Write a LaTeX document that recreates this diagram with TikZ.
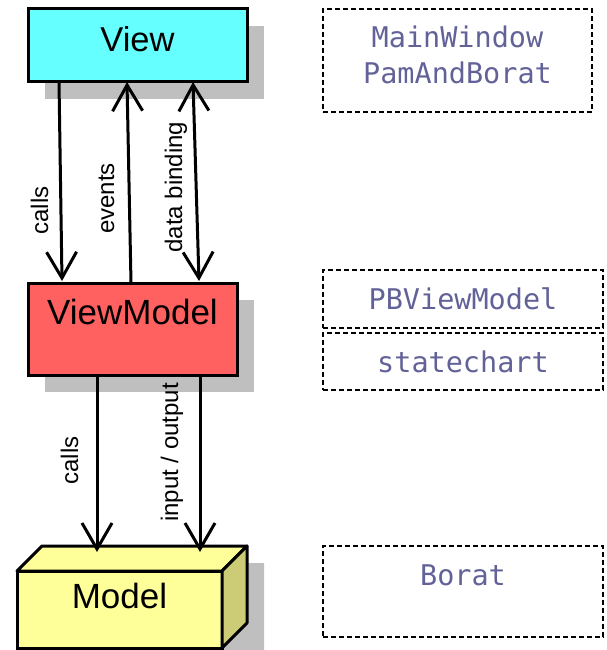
\documentclass[tikz,border=0pt]{standalone}
\usepackage{fontspec}
\setmainfont{Liberation Sans}
\newfontfamily\codefont{DejaVu Sans Mono}
\usetikzlibrary{arrows.meta,shadows,backgrounds}
\definecolor{viewc}{RGB}{102,255,255}
\definecolor{vmc}{RGB}{255,96,96}
\definecolor{modelc}{RGB}{255,255,153}
\definecolor{modelside}{RGB}{204,204,119}
\definecolor{shadowc}{RGB}{191,191,191}
\definecolor{codec}{RGB}{98,98,152}
\tikzset{
  mytip/.tip={Straight Barb[length=26pt,width=30pt]},
  box/.style={draw, line width=3pt, rectangle, inner sep=0pt, outer sep=0pt,
    drop shadow={shadow xshift=17pt, shadow yshift=-17pt, opacity=1, fill=shadowc}},
  arr/.style={line width=3pt, -mytip},
  lbl/.style={rotate=90, anchor=base, font=\fontsize{24}{28}\selectfont},
  code/.style={draw, dash pattern=on 5pt off 3pt, line width=1.3pt, inner sep=0pt, outer sep=0pt,
    font=\codefont\fontsize{28.5}{36}\selectfont, text=codec, align=center}
}
\begin{document}
\begin{tikzpicture}[x=1pt,y=-1pt]
\useasboundingbox (0,0) rectangle (606,650);
% main boxes
\node[box, fill=viewc, minimum width=219pt, minimum height=73pt, text depth=13pt,
  font=\fontsize{34.5}{40}\selectfont] (view) at (137.5,45.5) {View};
\node[box, fill=vmc, minimum width=209pt, minimum height=92pt, text depth=34pt,
  font=\fontsize{35}{40}\selectfont] (vm) at (132.5,329) {ViewModel};
\node[draw, line width=3pt, fill=modelc, inner sep=0pt, outer sep=0pt, minimum width=205pt,
  minimum height=77pt, text depth=28pt, font=\fontsize{35}{40}\selectfont] (model) at (119.5,609.5) {Model};
\draw[line width=3pt, line join=round, fill=modelc] (model.north west) -- ++(25pt,25pt)
  -- ++(205pt,0pt) -- (model.north east) -- cycle;
\draw[line width=3pt, line join=round, fill=modelside] (model.north east) -- ++(25pt,25pt)
  -- ++(0pt,-77pt) -- (model.south east) -- cycle;
\begin{scope}[on background layer]
\fill[shadowc] ([shift={(17pt,-17pt)}]model.south west) -- ([shift={(17pt,-17pt)}]model.north west)
  -- ++(25pt,25pt) -- ++(205pt,0pt) -- ++(0pt,-95pt) -- ([shift={(17pt,-30pt)}]model.south east) -- cycle;
\end{scope}
% connectors
\draw[arr] ([xshift=31pt]view.south west) -- ([shift={(34pt,2pt)}]vm.north west);
\draw[arr] ([xshift=103pt]vm.north west) -- ([xshift=99pt]view.south west);
\draw[line width=3pt, mytip-mytip] ([xshift=165pt]view.south west) -- ([shift={(171pt,2pt)}]vm.north west);
\draw[arr] ([xshift=69pt]vm.south west) -- ([shift={(80pt,19pt)}]model.north west);
\draw[arr] ([xshift=172pt]vm.south west) -- ([shift={(183pt,19pt)}]model.north west);
% labels
\node[lbl] (l1) at (48,210.5) {calls};
\node[lbl] (l2) at (114,198.5) {events};
\node[lbl] (l3) at (182,187) {data binding};
\node[lbl] (l4) at (78,460.5) {calls};
\node[lbl] (l5) at (178,452.5) {input / output};
% code boxes
\node[code, minimum width=269pt, minimum height=103pt, text depth=12pt] (mw) at (457.5,60.5) {MainWindow\\PamAndBorat};
\node[code, minimum width=280pt, minimum height=58pt] (pbvm) at (463,299) {PBViewModel};
\node[code, minimum width=280pt, minimum height=57pt] (sc) at (463,361.5) {statechart};
\node[code, minimum width=280pt, minimum height=91pt, text depth=33pt] (borat) at (463,591.5) {Borat};
\end{tikzpicture}
\end{document}
